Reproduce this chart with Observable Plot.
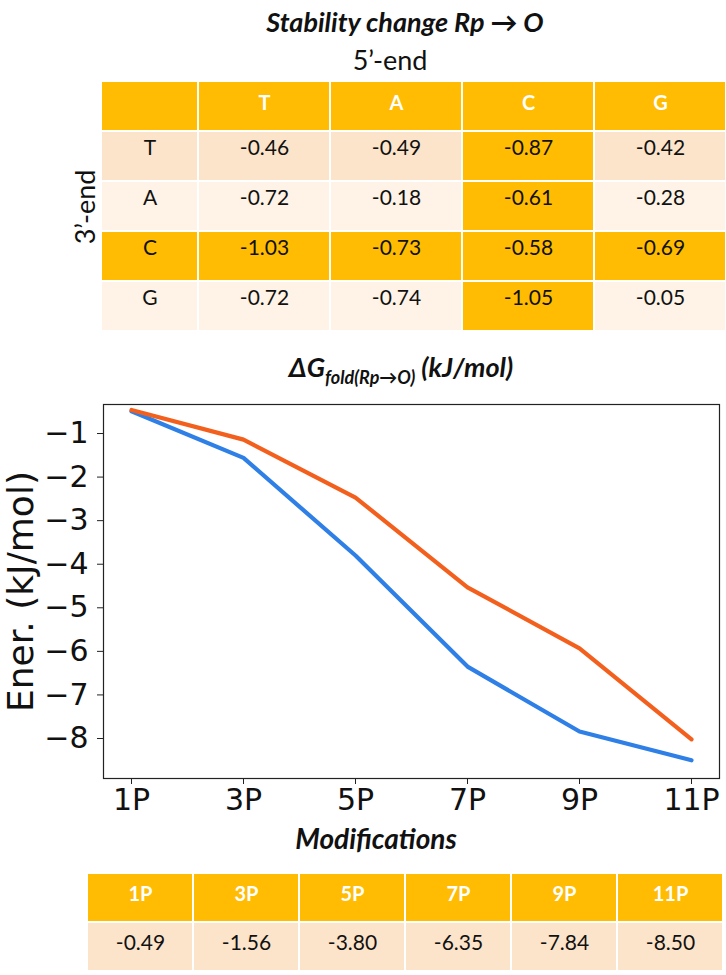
<!DOCTYPE html>
<html>
<head>
<meta charset="utf-8">
<script src="https://cdn.jsdelivr.net/npm/d3@7"></script>
<script src="https://cdn.jsdelivr.net/npm/@observablehq/plot@0.6"></script>
<style>
  html, body { margin: 0; padding: 0; background: #fff; }
  #root { position: relative; width: 726px; height: 975px; overflow: hidden; font-family: Lato, "Noto Sans", sans-serif; color: #111; }
  .abs { position: absolute; }
  svg { overflow: visible; background: transparent; }
</style>
</head>
<body>
<div id="root"></div>
<script>
// ---------------- data ----------------
const ends5 = ["T", "A", "C", "G"];          // 5'-end (columns)
const ends3 = ["T", "A", "C", "G"];          // 3'-end (rows)
const rowT = [-0.46, -0.49, -0.87, -0.42];
const rowA = [-0.72, -0.18, -0.61, -0.28];
const rowC = [-1.03, -0.73, -0.58, -0.69];
const rowG = [-0.72, -0.74, -1.05, -0.05];
const highlight = "C";

const mods = ["1P", "3P", "5P", "7P", "9P", "11P"];
const modN = [1, 3, 5, 7, 9, 11];
const seriesBlue = [-0.49, -1.56, -3.80, -6.35, -7.84, -8.50];
const seriesOrange = [-0.46, -1.14, -2.47, -4.53, -5.93, -8.02];
const yTicks = [-1, -2, -3, -4, -5, -6, -7, -8];

// ---------------- styles ----------------
const ORANGE = "#FFBC02", PEACH = "#FCE4CB", LIGHT = "#FEF3E6";
const BLUE = "#2E7FE6", RED = "#F3601D";
const FONT = "Lato, 'Noto Sans', sans-serif";

const root = document.getElementById("root");
function place(el, left, top) { el.classList.add("abs"); el.style.left = left + "px"; el.style.top = top + "px"; root.appendChild(el); return el; }
function label(html, x, y, style) {
  const d = document.createElement("div");
  d.innerHTML = html; d.className = "abs";
  d.style.left = x + "px"; d.style.top = y + "px";
  Object.assign(d.style, {transform: "translate(-50%,-50%)", whiteSpace: "nowrap", lineHeight: "1"}, style);
  root.appendChild(d); return d;
}

// ---------------- titles ----------------
label("Stability change Rp → O", 405, 21, {fontSize: "27px", fontWeight: "bold", fontStyle: "italic"});
label("5’-end", 390, 59, {fontSize: "27px"});
label("3’-end", 84, 207, {fontSize: "27px", transform: "translate(-50%,-50%) rotate(-90deg)"});

// ---------------- top table ----------------
const matrix = [rowT, rowA, rowC, rowG];
const rowKeys = ["hdr", ...ends3];
const cellsMain = [];
ends5.forEach((c) => cellsMain.push({row: "hdr", col: c, text: c, hdr: true}));
ends3.forEach((r, i) => ends5.forEach((c, j) => cellsMain.push({row: r, col: c, text: matrix[i][j].toFixed(2), hdr: false, idx: i})));
const cellsLbl = [{row: "hdr", col: "lbl", text: "", hdr: true}, ...ends3.map((r, i) => ({row: r, col: "lbl", text: r, hdr: false, idx: i}))];
function fillOf(d) {
  if (d.hdr) return ORANGE;
  if (d.row === highlight || d.col === highlight) return ORANGE;
  return d.idx % 2 === 0 ? PEACH : LIGHT;
}
function tablePlot(data, xdomain, ydomain, width, height, dyVal) {
  return Plot.plot({
    width, height, margin: 0,
    x: {domain: xdomain, padding: 0, axis: null},
    y: {domain: ydomain, padding: 0, axis: null},
    marks: [
      Plot.cell(data, {x: "col", y: "row", fill: d => d.fill ?? fillOf(d), inset: 1}),
      Plot.text(data.filter(d => d.hdr), {x: "col", y: "row", text: "text", dy: -3, fill: "white", fontWeight: "bold", fontSize: 20, fontFamily: FONT}),
      Plot.text(data.filter(d => !d.hdr), {x: "col", y: "row", text: "text", dy: dyVal, fill: "#111", fontSize: 21, fontFamily: FONT})
    ]
  });
}
place(tablePlot(cellsLbl, ["lbl"], rowKeys, 97, 254, -8), 101, 79);
place(tablePlot(cellsMain, ends5, rowKeys, 528, 254, -8), 198, 79);

// ---------------- line chart ----------------
label("ΔG<sub style='font-size:18px;vertical-align:-7px'>fold(Rp→O)</sub> (kJ/mol)", 401, 369, {fontSize: "27px", fontWeight: "bold", fontStyle: "italic"});

const lineData = [
  ...modN.map((m, i) => ({m, v: seriesBlue[i], s: "blue"})),
  ...modN.map((m, i) => ({m, v: seriesOrange[i], s: "orange"}))
];
const chart = Plot.plot({
  width: 726, height: 423,
  marginLeft: 103, marginRight: 7, marginTop: 9, marginBottom: 40,
  style: {fontFamily: "DejaVu Sans", background: "transparent"},
  x: {type: "linear", domain: [0.5, 11.5]},
  y: {domain: [-8.918, -0.334]},
  marks: [
    Plot.frame({stroke: "#222", strokeWidth: 1.2}),
    Plot.axisX({ticks: modN, tickFormat: d => mods[modN.indexOf(d)], tickSize: 6, tickPadding: 4, fontSize: 30, fontFamily: "DejaVu Sans", label: null, stroke: "#222", fill: "#111"}),
    Plot.axisY({ticks: yTicks, tickFormat: d => "−" + Math.abs(d), tickSize: 6, tickPadding: 9, fontSize: 30, fontFamily: "DejaVu Sans", label: null, stroke: "#222", fill: "#111"}),
    Plot.line(lineData.filter(d => d.s === "blue"), {x: "m", y: "v", stroke: BLUE, strokeWidth: 4.2}),
    Plot.line(lineData.filter(d => d.s === "orange"), {x: "m", y: "v", stroke: RED, strokeWidth: 4.2}),
    Plot.text(["Ener. (kJ/mol)"], {frameAnchor: "left", dx: -82, rotate: -90, textAnchor: "middle", fontSize: 36, fontFamily: "DejaVu Sans", fill: "#111"})
  ]
});
place(chart, 0, 395);

label("Modifications", 376, 838, {fontSize: "28px", fontWeight: "bold", fontStyle: "italic"});

// ---------------- bottom table ----------------
const bottomCells = [
  ...mods.map(m => ({row: "hdr", col: m, text: m, hdr: true, fill: ORANGE})),
  ...mods.map((m, i) => ({row: "val", col: m, text: seriesBlue[i].toFixed(2), hdr: false, fill: PEACH}))
];
place(tablePlot(bottomCells, mods, ["hdr", "val"], 636, 98, -4), 87, 873);
</script>
</body>
</html>
